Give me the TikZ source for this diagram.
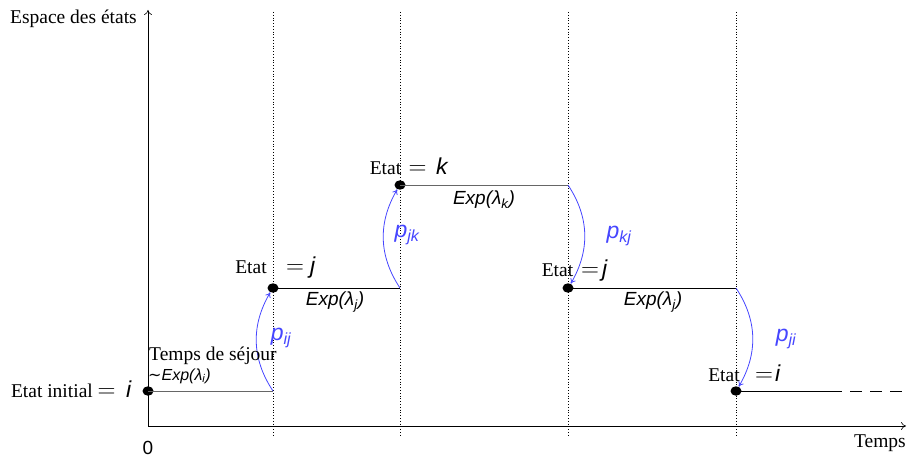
\documentclass[tikz,border=0pt]{standalone}
\usepackage{fontspec}
\setmainfont{Liberation Serif}
\newfontfamily\sfit{Liberation Sans}[ItalicFont=* Italic]
\newfontfamily\symf{DejaVu Sans}
\usetikzlibrary{arrows.meta,shapes.geometric}
\definecolor{arrblue}{RGB}{70,70,255}
\tikzset{
  axis/.style={line width=0.6pt,-{To[length=5pt,width=8pt]}},
  guide/.style={dotted,line width=0.8pt},
  seg/.style={line width=0.8pt,black},
  gseg/.style={line width=0.8pt,black!60},
  jump/.style={arrblue,line width=0.8pt,-{To[length=5pt,width=6pt]}},
  stdot/.style={ellipse,fill=black,inner sep=0pt,minimum width=11pt,minimum height=9.5pt},
  lbl/.style={font=\fontsize{19.5}{22}\selectfont,inner sep=0pt},
  eqsign/.style={font=\fontsize{28}{30}\selectfont,inner sep=0pt,anchor=base},
  letter/.style={font=\fontsize{23}{26}\selectfont\sfit\itshape,inner sep=0pt,anchor=base west},
  plbl/.style={font=\fontsize{23}{26}\selectfont\sfit\itshape,text=arrblue,inner sep=0pt},
  explbl/.style={font=\fontsize{19}{21}\selectfont\sfit\itshape,inner sep=0pt},
}
\begin{document}
\begin{tikzpicture}[x=1pt,y=-1pt]
\useasboundingbox (0,0) rectangle (907,457);
% axes
\coordinate (O) at (148,426);
\coordinate (Ytop) at (148,10);
\coordinate (Xend) at (906,426);
\draw[axis] (O) -- (Ytop);
\draw[axis] (O) -- (Xend);
\node[lbl,anchor=base east] (ylab) at (137,24) {Espace des états};
\node[lbl,anchor=base east] (xlab) at (906,447) {Temps};
\node[font=\fontsize{19}{21}\selectfont\sfit,inner sep=0pt] (zero) at (148,448) {0};
% guide lines
\foreach \x/\n in {273/g1,400/g2,568/g3,736/g4}{
  \coordinate (\n t) at (\x,12);
  \coordinate (\n b) at (\x,437);
  \draw[guide] (\n t) -- (\n b);
}
% state dots
\node[stdot] (s0) at (148,391) {};
\node[stdot] (s1) at (273,288) {};
\node[stdot] (s2) at (400,185) {};
\node[stdot] (s3) at (568,288) {};
\node[stdot] (s4) at (736,391) {};
% segment ends
\coordinate (e0) at (273,391);
\coordinate (e1) at (400,288);
\coordinate (e2) at (568,185);
\coordinate (e3) at (736,288);
\coordinate (e4) at (830,391);
\coordinate (e5) at (905,391);
\draw[gseg] (s0.center) -- (e0);
\draw[seg] (s1.center) -- (e1);
\draw[gseg] (s2.center) -- (e2);
\draw[seg] (s3.center) -- (e3);
\draw[seg] (s4.center) -- (e4);
\draw[seg,dash pattern=on 12pt off 8pt] (e4) -- (e5);
% jumps
\draw[jump] (e0) to[bend left=32] (s1);
\draw[jump] (e1) to[bend left=32] (s2);
\draw[jump] (e2) to[bend left=32] (s3);
\draw[jump] (e3) to[bend left=32] (s4);
\node[plbl] (pij) at (281,338) {p\textsubscript{ij}};
\node[plbl] (pjk) at (407,235) {p\textsubscript{jk}};
\node[plbl] (pkj) at (619,236) {p\textsubscript{kj}};
\node[plbl] (pji) at (786,339) {p\textsubscript{ji}};
% state labels
\node[lbl,anchor=base east] (l0a) at (93,397) {Etat initial};
\node[eqsign] (l0e) at (106.5,397) {$=$};
\node[letter] (l0b) at (126,397) {i};
\node[lbl,anchor=base] (l1a) at (251,273) {Etat};
\node[eqsign] (l1e) at (295,273) {$=$};
\node[letter] (l1b) at (310,273) {j};
\node[lbl,anchor=base] (l2a) at (385.5,175) {Etat};
\node[eqsign] (l2e) at (417.5,175) {$=$};
\node[letter] (l2b) at (436,175) {k};
\node[lbl,anchor=base] (l3a) at (557.5,276) {Etat};
\node[eqsign] (l3e) at (590,276) {$=$};
\node[letter] (l3b) at (602,276) {j};
\node[lbl,anchor=base] (l4a) at (724,381) {Etat};
\node[eqsign] (l4e) at (764,381) {$=$};
\node[letter] (l4b) at (775,381) {i};
% sojourn labels
\node[lbl,anchor=base west] (soj) at (149,360) {Temps de séjour};
\node[explbl,anchor=west,font=\fontsize{16}{18}\selectfont\sfit\itshape] (sojexp) at (148,376) {{\symf\upshape ∼}Exp(λ\textsubscript{i})};
\node[explbl] (x1) at (335,302) {Exp(λ\textsubscript{j})};
\node[explbl] (x2) at (484,200) {Exp(λ\textsubscript{k})};
\node[explbl] (x3) at (653,302) {Exp(λ\textsubscript{j})};
\end{tikzpicture}
\end{document}
